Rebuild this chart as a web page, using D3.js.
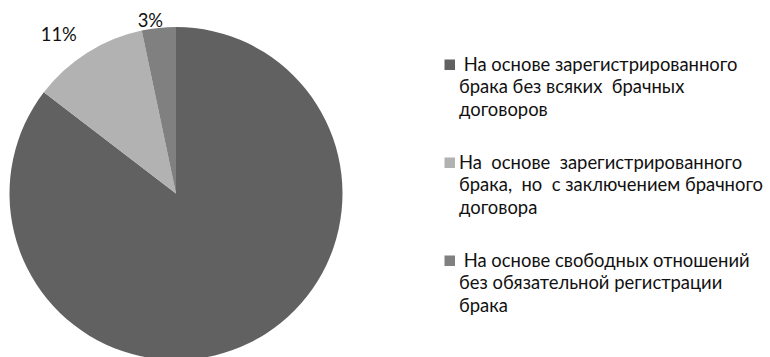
<!DOCTYPE html>
<html><head><meta charset="utf-8">
<script src="https://cdn.jsdelivr.net/npm/d3@7"></script>
<style>
html,body{margin:0;padding:0;background:#fff;overflow:hidden}
svg{display:block}
text{white-space:pre}
</style></head>
<body>
<svg id="c" width="770" height="357"></svg>
<script>
// ---- data ----
const categories = [
  "На основе зарегистрированного брака без всяких брачных договоров",
  "На основе зарегистрированного брака, но с заключением брачного договора",
  "На основе свободных отношений без обязательной регистрации брака"
];
const values = [85.4, 11.3, 3.3];
const valueLabels = ["", "11%", "3%"];
const legendLines = [
  [" На основе зарегистрированного", "брака без всяких  брачных", "договоров"],
  ["На  основе  зарегистрированного", "брака,  но  с заключением брачного", "договора"],
  [" На основе свободных отношений", "без обязательной регистрации", "брака"]
];
const titleText = "Предпочтительная форма брака у молодёжи (распределение ответов)";

// ---- style / layout ----
const colors = ["#616161", "#b2b2b2", "#808080"];
const fontFamily = "Lato, 'Open Sans', sans-serif";
const cx = 176, cy = 193.5, R = 166.5;
const labelR = [0, 188, 174];
const labelDx = [0, -17, -7.6];

const svg = d3.select("#c");

// fit font-size so that legend line width matches reference (~274px)
const probe = svg.append("text").attr("font-family", fontFamily).attr("font-size", 20)
  .text("На основе зарегистрированного");
const w = probe.node().getComputedTextLength();
probe.remove();
const fs = 20 * 274 / w;

// title (cut off at the top of the picture, only descenders visible)
svg.append("text")
  .attr("x", 352).attr("y", -3.5)
  .attr("text-anchor", "end")
  .attr("font-family", fontFamily).attr("font-weight", "bold")
  .attr("font-size", fs).attr("fill", "#000")
  .text(titleText);

const pie = d3.pie().sort(null).value(d => d);
const arcs = pie(values);
const arc = d3.arc().innerRadius(0).outerRadius(R);

const g = svg.append("g").attr("transform", `translate(${cx},${cy})`);
g.selectAll("path").data(arcs).join("path")
  .attr("d", arc)
  .attr("fill", (d, i) => colors[i]);

arcs.forEach((d, i) => {
  if (!valueLabels[i]) return;
  const la = d3.arc().innerRadius(labelR[i]).outerRadius(labelR[i]);
  const [x, y] = la.centroid(d);
  g.append("text")
    .attr("x", x + labelDx[i]).attr("y", y)
    .attr("dy", "0.35em")
    .attr("text-anchor", "middle")
    .attr("font-family", fontFamily).attr("font-size", fs)
    .attr("fill", "#111")
    .text(valueLabels[i]);
});

// legend
const lx = 459, sqX = 444.5, sq = 10.5;
const y0 = 70.5, lineH = 22.8, groupH = 98;
const lg = svg.append("g");
legendLines.forEach((lines, i) => {
  const by = y0 + i * groupH;
  lg.append("rect")
    .attr("x", sqX).attr("y", by - sq - 0.5)
    .attr("width", sq).attr("height", sq)
    .attr("fill", colors[i]);
  lines.forEach((t, j) => {
    lg.append("text")
      .attr("x", lx).attr("y", by + j * lineH)
      .attr("font-family", fontFamily).attr("font-size", fs)
      .attr("fill", "#111")
      .text(t);
  });
});
</script>
</body></html>
